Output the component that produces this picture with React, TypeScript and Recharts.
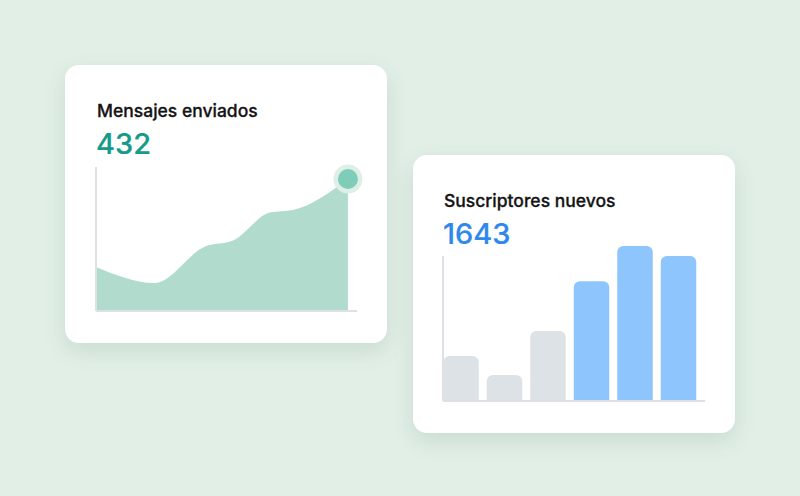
import React from "react";
import {
  AreaChart,
  Area,
  BarChart,
  Bar,
  Cell,
  XAxis,
  YAxis,
  ReferenceDot,
  ReferenceLine,
} from "recharts";

// ---- Card 1: Mensajes enviados ----
const messagesTitle = "Mensajes enviados";
const messagesTotal = "432";
const messageProgress = [0, 23.4, 43.3, 54.4, 69.0, 78.2, 100];
const messageValues = [44, 28, 64.5, 70.5, 98.5, 101, 132];

// ---- Card 2: Suscriptores nuevos ----
const subsTitle = "Suscriptores nuevos";
const subsTotal = "1643";
const subsPeriods = [0, 1, 2, 3, 4, 5];
const subsValues = [132, 76, 205, 351, 454, 425];
const subsHighlightFrom = 3;

const areaData = messageProgress.map((x, i) => ({ x, y: messageValues[i] }));
const barData = subsPeriods.map((p, i) => ({ p, v: subsValues[i] }));
const lastPoint = areaData[areaData.length - 1];

const AXIS = "#dde0e4";
const FONT = "Inter, 'Noto Sans', sans-serif";

const cardStyle: React.CSSProperties = {
  position: "absolute",
  width: 322,
  height: 278,
  background: "#ffffff",
  borderRadius: 14,
  boxShadow: "0 8px 22px rgba(40, 90, 60, 0.13)",
};

const titleStyle: React.CSSProperties = {
  position: "absolute",
  fontFamily: FONT,
  fontSize: 17.5,
  fontWeight: 500,
  WebkitTextStroke: "0.3px #141414",
  lineHeight: 1,
  color: "#141414",
  whiteSpace: "nowrap",
};

const numberStyle: React.CSSProperties = {
  position: "absolute",
  fontFamily: FONT,
  fontSize: 29,
  fontWeight: 500,
  lineHeight: 1,
  whiteSpace: "nowrap",
};

export default function App() {
  const areaXMax = 103.6;
  const areaYMax = 144;
  const barMin = -0.414;
  const barMax = 5.609;
  return (
    <div
      style={{
        position: "fixed",
        left: 0,
        top: 0,
        width: 800,
        height: 496,
        background: "#e2efe7",
        overflow: "hidden",
      }}
    >
      <div style={{ ...cardStyle, left: 65, top: 65 }} />
      <div style={{ ...cardStyle, left: 413, top: 155 }} />

      <div style={{ ...titleStyle, left: 97, top: 101.5 }}>{messagesTitle}</div>
      <div
        style={{
          ...numberStyle,
          left: 96,
          top: 129,
          color: "#169a89",
          WebkitTextStroke: "0.2px #169a89",
        }}
      >
        {messagesTotal}
      </div>

      <div style={{ ...titleStyle, left: 444, top: 191.5 }}>{subsTitle}</div>
      <div
        style={{
          ...numberStyle,
          left: 443,
          top: 219,
          color: "#2f88ec",
          WebkitTextStroke: "0.2px #2f88ec",
        }}
      >
        {subsTotal}
      </div>

      <div style={{ position: "absolute", left: 86, top: 157 }}>
        <AreaChart
          width={281}
          height={164}
          data={areaData}
          margin={{ top: 10, right: 10, bottom: 10, left: 10 }}
        >
          <XAxis dataKey="x" type="number" domain={[0, areaXMax]} hide />
          <YAxis type="number" domain={[0, areaYMax]} hide />
          <Area
            dataKey="y"
            type="monotone"
            stroke="none"
            fill="#b1dccd"
            fillOpacity={1}
            isAnimationActive={false}
          />
          <ReferenceLine
            segment={[
              { x: 0, y: 0 },
              { x: 0, y: areaYMax },
            ]}
            stroke={AXIS}
            strokeWidth={2}
            ifOverflow="visible"
          />
          <ReferenceLine
            segment={[
              { x: 0, y: 0 },
              { x: areaXMax, y: 0 },
            ]}
            stroke={AXIS}
            strokeWidth={2}
            ifOverflow="visible"
          />
          <ReferenceDot
            x={lastPoint.x}
            y={lastPoint.y}
            r={14.5}
            fill="#ddefe6"
            stroke="none"
            ifOverflow="visible"
          />
          <ReferenceDot
            x={lastPoint.x}
            y={lastPoint.y}
            r={10}
            fill="#7fcdb9"
            stroke="none"
            ifOverflow="visible"
          />
        </AreaChart>
      </div>

      <div style={{ position: "absolute", left: 433, top: 236 }}>
        <BarChart
          width={282}
          height={175}
          data={barData}
          margin={{ top: 10, right: 10, bottom: 10, left: 10 }}
        >
          <XAxis dataKey="p" type="number" domain={[barMin, barMax]} hide />
          <YAxis type="number" domain={[0, 454]} hide />
          <ReferenceLine
            segment={[
              { x: barMin, y: 0 },
              { x: barMin, y: subsValues[subsValues.length - 1] },
            ]}
            stroke={AXIS}
            strokeWidth={2}
            ifOverflow="visible"
          />
          <ReferenceLine
            segment={[
              { x: barMin, y: 0 },
              { x: barMax, y: 0 },
            ]}
            stroke={AXIS}
            strokeWidth={2}
            ifOverflow="visible"
          />
          <Bar
            dataKey="v"
            barSize={35.5}
            radius={[6, 6, 0, 0]}
            isAnimationActive={false}
          >
            {barData.map((d, i) => (
              <Cell
                key={d.p}
                fill={i >= subsHighlightFrom ? "#8ec5fd" : "#dde2e6"}
              />
            ))}
          </Bar>
        </BarChart>
      </div>
    </div>
  );
}
